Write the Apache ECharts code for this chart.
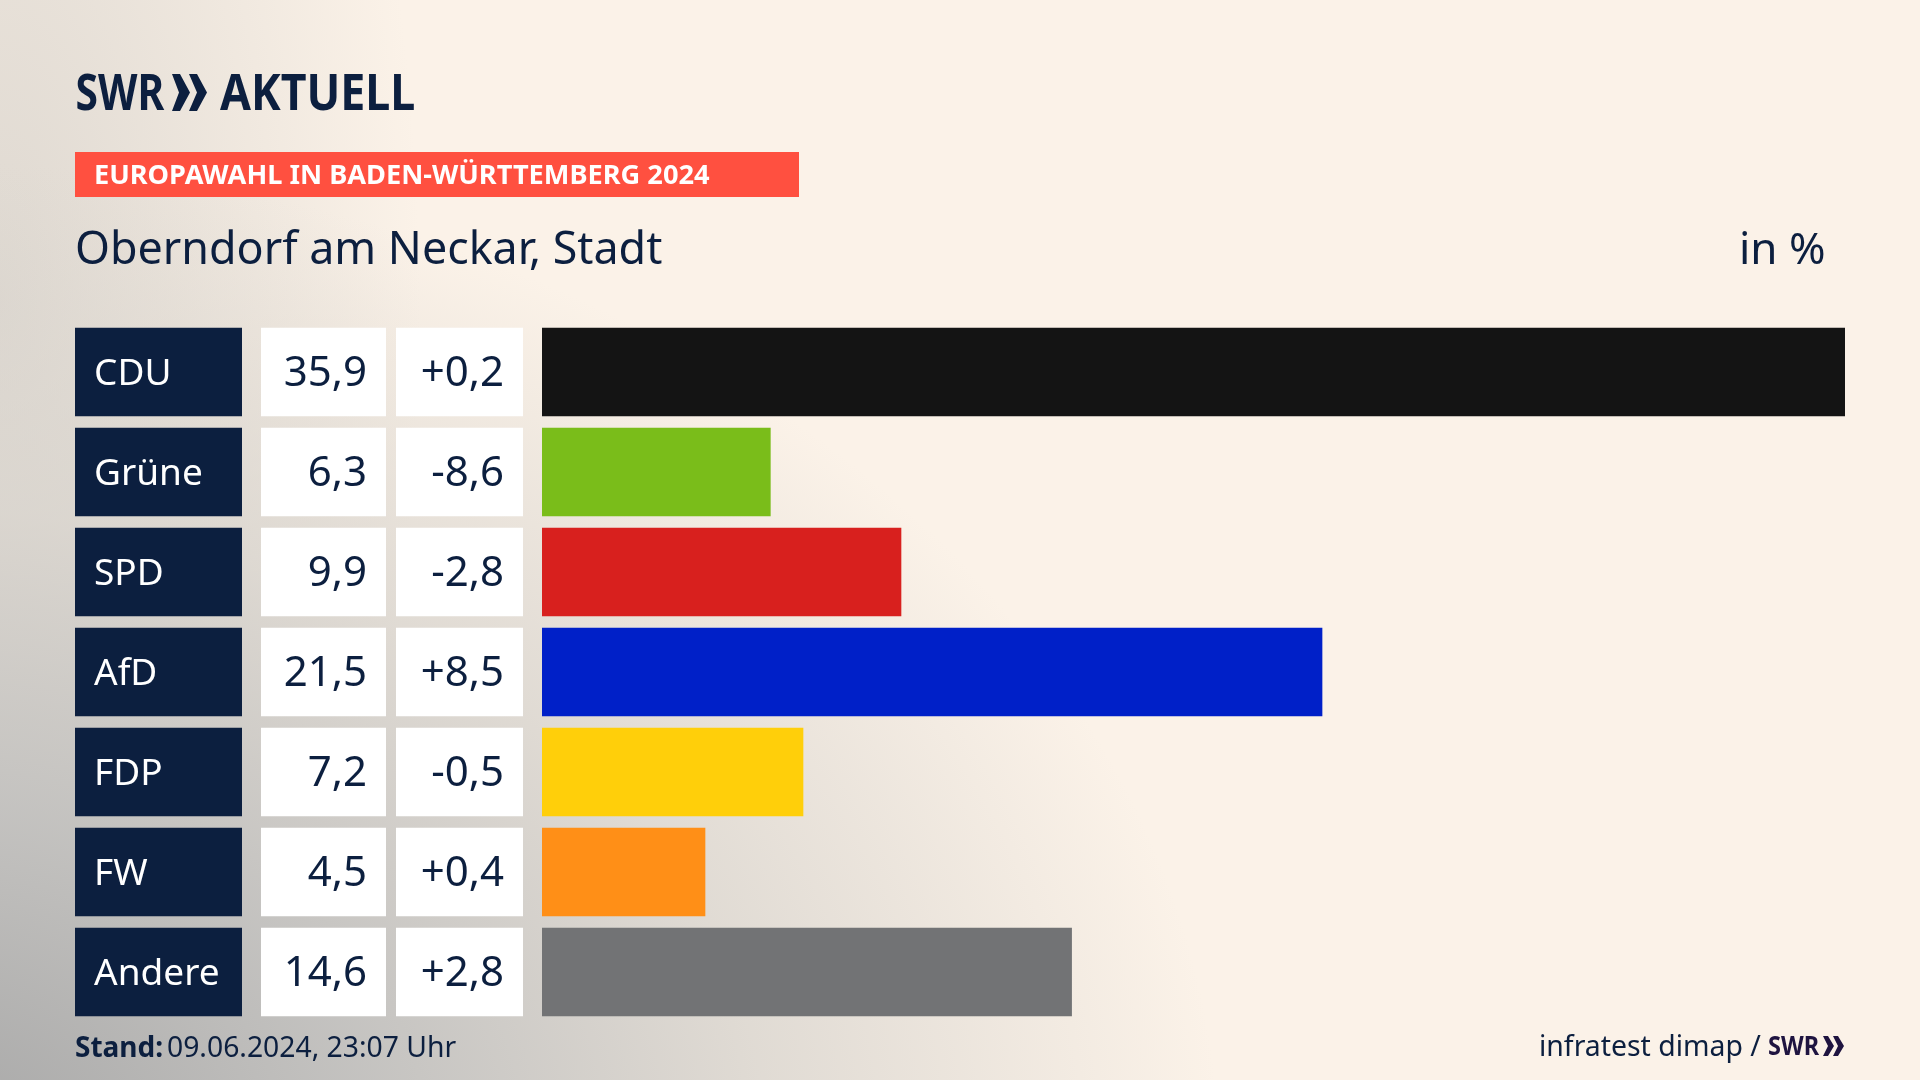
<!DOCTYPE html>
<html lang="de">
<head>
    <meta charset="utf-8"/>
    <title>Europawahl Oberndorf am Neckar</title>
    <script src="https://cdn.jsdelivr.net/npm/echarts@6/dist/echarts.min.js"></script>
    <style>
        html, body {
            margin: 0;
            height: 100%;
            overflow: hidden;
        }

        body {
            background-color: #FBF2E8;
            background-image:
                radial-gradient(ellipse 1300px 1000px at -80px 1160px, rgba(165,165,165,1) 0%, rgba(193,192,190,.95) 35%, rgba(215,211,205,.75) 65%, rgba(251,242,232,0) 100%),
                radial-gradient(ellipse 420px 1000px at 0 300px, rgba(215,210,203,.8) 0%, rgba(251,242,232,0) 100%);
        }

        #chart {
            width: 1920px;
            height: 1080px;
        }
    </style>
</head>
<body>
<div id="chart"></div>
<script>
    var parties = ['CDU', 'Grüne', 'SPD', 'AfD', 'FDP', 'FW', 'Andere'];
    var shares = [35.9, 6.3, 9.9, 21.5, 7.2, 4.5, 14.6];
    var changes = [0.2, -8.6, -2.8, 8.5, -0.5, 0.4, 2.8];
    var partyColors = ['#141414', '#7ABD1A', '#D8201E', '#0020C8', '#FFCF0A', '#FF8F17', '#727375'];
    var cellFill = [1, 1, 1, 1, 1, 1, 1];

    var NAVY = '#0C1F3F';
    var PURPLE = '#1F1440';
    var FONT = '"Noto Sans", sans-serif';

    function comma(v) {
        return v.toFixed(1).replace('.', ',');
    }

    function signed(v) {
        return (v > 0 ? '+' : '') + comma(v);
    }

    // four grids side by side: name cell, value cell, change cell, bars
    var columns = [
        {left: 75, width: 167},
        {left: 261, width: 125},
        {left: 396, width: 127},
        {left: 542, width: 1303}
    ];

    function cellSeries(idx, bg, color, pos, size, text) {
        return {
            type: 'bar',
            xAxisIndex: idx,
            yAxisIndex: idx,
            barWidth: 88.5,
            data: cellFill,
            silent: true,
            itemStyle: {color: bg},
            label: {
                show: true,
                position: pos,
                distance: 19,
                offset: [0, 2],
                color: color,
                fontFamily: FONT,
                fontSize: size,
                formatter: function (p) {
                    return text(p.dataIndex);
                }
            }
        };
    }

    var chart = echarts.init(document.getElementById('chart'), null, {renderer: 'canvas'});

    chart.setOption({
        animation: false,
        backgroundColor: 'transparent',
        grid: columns.map(function (c) {
            return {left: c.left, width: c.width, top: 322, height: 700};
        }),
        xAxis: columns.map(function (c, i) {
            return {gridIndex: i, type: 'value', min: 0, max: i === 3 ? 35.9 : 1, show: false};
        }),
        yAxis: columns.map(function (c, i) {
            return {gridIndex: i, type: 'category', data: parties, inverse: true, show: false};
        }),
        series: [
            cellSeries(0, NAVY, '#FFFFFF', 'insideLeft', 37, function (i) { return parties[i]; }),
            cellSeries(1, '#FFFFFF', NAVY, 'insideRight', 42, function (i) { return comma(shares[i]); }),
            cellSeries(2, '#FFFFFF', NAVY, 'insideRight', 42, function (i) { return signed(changes[i]); }),
            {
                type: 'bar',
                xAxisIndex: 3,
                yAxisIndex: 3,
                barWidth: 88.5,
                silent: true,
                data: shares.map(function (v, i) {
                    return {value: v, itemStyle: {color: partyColors[i]}};
                })
            }
        ],
        graphic: [
            // logo
            {type: 'text', x: 75.5, y: 70, scaleX: 0.8, style: {text: 'SWR', fill: NAVY, font: 'bold 51px "Noto Sans"'}},
            {type: 'polygon', shape: {points: [[172, 74], [180, 74], [190, 92.5], [180, 111], [172, 111], [179, 92.5]]}, style: {fill: NAVY}},
            {type: 'polygon', shape: {points: [[189, 74], [197, 74], [207, 92.5], [197, 111], [189, 111], [197, 92.5]]}, style: {fill: NAVY}},
            {type: 'text', x: 220, y: 70, scaleX: 0.877, style: {text: 'AKTUELL', fill: NAVY, font: 'bold 51px "Noto Sans"'}},
            // headline
            {type: 'rect', shape: {x: 75, y: 152, width: 724, height: 45}, style: {fill: '#FF5040'}},
            {type: 'text', x: 94, y: 163, style: {text: 'EUROPAWAHL IN BADEN-WÜRTTEMBERG 2024', fill: '#FFFFFF', font: 'bold 27.2px "Noto Sans"'}},
            {type: 'text', x: 75, y: 229, style: {text: 'Oberndorf am Neckar, Stadt', fill: NAVY, font: '44.8px "Noto Sans"'}},
            {type: 'text', x: 1739, y: 229, style: {text: 'in %', fill: NAVY, font: '44px "Noto Sans"'}},
            // footer
            {type: 'text', x: 75, y: 1035, style: {text: 'Stand:', fill: NAVY, font: 'bold 28px "Noto Sans"'}},
            {type: 'text', x: 167, y: 1035, style: {text: '09.06.2024, 23:07 Uhr', fill: NAVY, font: '28.3px "Noto Sans"'}},
            {type: 'text', x: 1539, y: 1034, style: {text: 'infratest dimap /', fill: NAVY, font: '28.4px "Noto Sans"'}},
            {type: 'text', x: 1768, y: 1034, scaleX: 0.87, style: {text: 'SWR', fill: PURPLE, font: 'bold 27px "Noto Sans"'}},
            {type: 'polygon', shape: {points: [[1823, 1036], [1828, 1036], [1834, 1046], [1828, 1056], [1823, 1056], [1828, 1046]]}, style: {fill: PURPLE}},
            {type: 'polygon', shape: {points: [[1833, 1036], [1838, 1036], [1844, 1046], [1838, 1056], [1833, 1056], [1838, 1046]]}, style: {fill: PURPLE}}
        ]
    });

    window.addEventListener('resize', function () {
        chart.resize();
    });
</script>
</body>
</html>
